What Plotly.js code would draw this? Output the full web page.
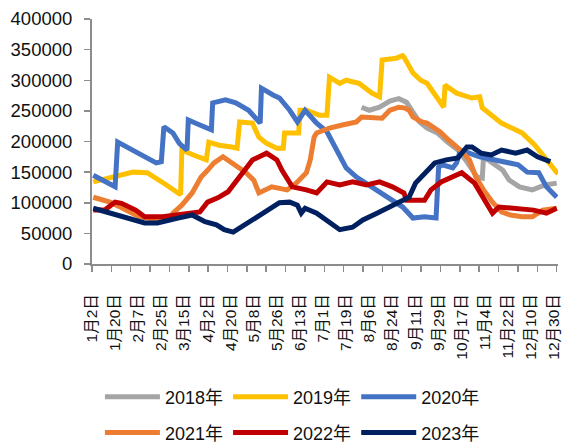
<!DOCTYPE html>
<html>
<head>
<meta charset="utf-8">
<script src="https://cdn.plot.ly/plotly-3.0.1.min.js"></script>
<style>
  body { margin: 0; }
  #chart { width: 570px; height: 444px; }
</style>
</head>
<body>
<div id="chart"></div>
<script>
// values (dates as MM-DD, one dummy year for all series)
var d2018 = ["07-31","08-06","08-14","08-22","08-29","09-04","09-09","09-14","09-20","09-28","10-06","10-14","10-20","10-24","10-29","11-02","11-03","11-08","11-18","11-23","12-01","12-11","12-21","12-30"];
var v2018 = [256000,251000,256000,266000,270000,264000,248000,232000,222000,214000,199000,186000,170000,158000,142000,140000,175000,168000,153000,137000,126000,121000,129000,132000];

var d2019 = ["01-03","01-10","01-24","02-03","02-14","02-22","03-01","03-12","03-13","03-22","04-01","04-03","04-11","04-21","04-25","04-27","05-07","05-12","05-18","05-26","05-31","06-01","06-12","06-13","06-18","06-28","07-04","07-06","07-14","07-19","07-29","08-08","08-14","08-16","08-27","09-01","09-02","09-09","09-15","09-20","09-28","10-03","10-04","10-13","10-25","10-31","11-02","11-09","11-17","11-25","12-03","12-13","12-20","12-25","12-31"];
var v2019 = [134000,138000,145000,150000,149000,137000,129000,113000,186000,178000,170000,199000,194000,191000,189000,232000,230000,207000,197000,189000,189000,214000,214000,251000,251000,243000,243000,305000,295000,300000,295000,279000,273000,333000,336000,340000,338000,312000,300000,295000,273000,256000,292000,279000,271000,273000,255000,243000,230000,222000,214000,194000,175000,160000,147000];

var d2020 = ["01-03","01-10","01-20","01-22","01-29","02-06","02-13","02-18","02-21","02-25","02-27","03-06","03-11","03-17","03-18","03-27","04-05","04-06","04-16","04-24","05-04","05-13","05-14","05-23","05-28","06-05","06-11","06-17","06-26","07-04","07-09","07-14","07-19","07-27","08-09","08-20","09-01","09-09","09-18","09-27","09-29","10-02","10-10","10-13","10-16","10-31","11-13","11-30","12-07","12-16","12-22","12-30"];
var v2020 = [145000,138000,126000,199000,191000,181000,173000,167000,165000,167000,224000,214000,197000,186000,235000,227000,219000,263000,268000,263000,251000,230000,287000,276000,271000,251000,232000,251000,230000,216000,197000,175000,157000,142000,124000,109000,93000,75000,77000,75000,158000,162000,157000,165000,186000,175000,170000,162000,150000,149000,126000,109000];

var d2021 = ["01-03","01-08","01-16","01-24","02-08","02-24","03-04","03-06","03-13","03-21","03-28","04-02","04-07","04-14","04-21","05-02","05-08","05-12","05-22","06-03","06-10","06-18","06-21","06-24","06-26","07-06","07-16","07-27","07-31","08-16","08-22","08-29","09-02","09-06","09-09","09-16","09-20","09-30","10-07","10-16","10-23","10-28","11-03","11-10","11-17","11-24","12-03","12-11","12-19","12-30"];
var v2021 = [109000,106000,101000,93000,77000,72000,74000,83000,96000,116000,142000,153000,165000,175000,165000,149000,137000,116000,126000,121000,132000,149000,170000,207000,214000,222000,227000,232000,240000,238000,251000,256000,255000,251000,240000,232000,230000,216000,202000,186000,170000,142000,121000,101000,85000,80000,77000,77000,88000,91000];

var d2022 = ["01-03","01-12","01-20","01-25","02-05","02-12","02-26","03-08","03-21","03-27","04-02","04-10","04-18","04-23","04-29","05-07","05-18","05-26","05-30","06-07","06-18","06-26","07-04","07-14","07-24","08-04","08-14","08-24","09-02","09-04","09-18","09-23","10-01","10-12","10-17","10-27","11-03","11-10","11-15","11-26","12-12","12-22","12-30"];
var v2022 = [88000,88000,101000,99000,88000,77000,77000,80000,83000,85000,101000,108000,118000,132000,149000,170000,181000,170000,153000,126000,121000,116000,134000,129000,134000,129000,134000,126000,116000,104000,104000,121000,134000,145000,149000,132000,109000,83000,93000,91000,88000,83000,91000];

var d2023 = ["01-03","01-13","01-24","02-04","02-12","02-22","03-02","03-10","03-21","03-31","04-09","04-15","04-22","04-28","05-07","05-20","05-28","06-05","06-11","06-14","06-17","06-26","07-06","07-14","07-24","08-01","08-12","08-22","09-01","09-06","09-11","09-19","09-26","10-05","10-14","10-21","10-25","11-01","11-09","11-17","11-28","12-07","12-15","12-25"];
var v2023 = [91000,85000,80000,72000,67000,67000,72000,75000,80000,69000,64000,56000,52000,60000,72000,91000,100000,101000,96000,83000,91000,83000,69000,56000,60000,72000,83000,93000,104000,109000,132000,149000,165000,170000,173000,191000,191000,181000,178000,186000,181000,186000,175000,167000];

var tickDates = ["01-02","01-20","02-07","02-25","03-15","04-02","04-20","05-08","05-26","06-13","07-01","07-19","08-06","08-24","09-11","09-29","10-17","11-04","11-22","12-10","12-28"];
var tickLabels = ["1月2日","1月20日","2月7日","2月25日","3月15日","4月2日","4月20日","5月8日","5月26日","6月13日","7月1日","7月19日","8月6日","8月24日","9月11日","9月29日","10月17日","11月4日","11月22日","12月10日","12月30日"];

var names = ["2018年","2019年","2020年","2021年","2022年","2023年"];
var colors = ["#A5A5A5","#FFC000","#4472C4","#ED7D31","#C00000","#002060"];
var allDates = [d2018, d2019, d2020, d2021, d2022, d2023];
var allVals = [v2018, v2019, v2020, v2021, v2022, v2023];

// each legend entry gets its own legend box: 3 per row, 2 rows
var legendIds = ["legend","legend2","legend3","legend4","legend5","legend6"];
var legendX = [0.017, 0.292, 0.567];
var legendY = [0.106, 0.025];   // container coords

function toDate(md) { return "2023-" + md; }

var data = allDates.map(function (d, i) {
  return {
    x: d.map(toDate),
    y: allVals[i],
    name: names[i],
    type: "scatter",
    mode: "lines",
    line: { color: colors[i], width: 5 },
    legend: legendIds[i]
  };
});

var font = 'Arial, "Liberation Sans", "Noto Sans CJK SC", sans-serif';
var DAY = 86400000;

var layout = {
  width: 570,
  height: 444,
  margin: { l: 92, r: 12, t: 19, b: 180, autoexpand: false },
  paper_bgcolor: "#fff",
  plot_bgcolor: "#fff",
  font: { family: font, size: 18, color: "#111" },
  showlegend: true,
  xaxis: {
    type: "date",
    range: ["2023-01-02", "2023-12-31"],
    tickmode: "array",
    tickvals: tickDates.map(toDate),
    ticktext: tickLabels,
    tickangle: -90,
    ticks: "",
    showgrid: false,
    zeroline: false,
    showline: true,
    linecolor: "#8c8c8c",
    linewidth: 2,
    tickfont: { family: font, size: 15.5, color: "#111" },
    ticklabelstandoff: 22,
    minor: {
      ticks: "outside",
      ticklen: 6,
      tickwidth: 1.5,
      tickcolor: "#8c8c8c",
      tick0: "2023-01-02",
      dtick: 15.08 * DAY,
      showgrid: false
    }
  },
  yaxis: {
    range: [0, 400000],
    dtick: 50000,
    tickformat: "d",
    ticks: "outside",
    ticklen: 6,
    tickwidth: 1.5,
    tickcolor: "#8c8c8c",
    showline: true,
    linecolor: "#8c8c8c",
    linewidth: 2,
    showgrid: false,
    zeroline: false,
    tickfont: { family: font, size: 18.5, color: "#111" },
    ticklabelstandoff: 8
  }
};

legendIds.forEach(function (id, i) {
  layout[id] = {
    orientation: "h",
    xref: "paper", yref: "container",
    x: legendX[i % 3], xanchor: "left",
    y: legendY[Math.floor(i / 3)], yanchor: "middle",
    itemwidth: 55,
    font: { family: font, size: 18, color: "#111" },
    bgcolor: "rgba(0,0,0,0)"
  };
});

Plotly.newPlot("chart", data, layout, { displayModeBar: false, staticPlot: true });
</script>
</body>
</html>
